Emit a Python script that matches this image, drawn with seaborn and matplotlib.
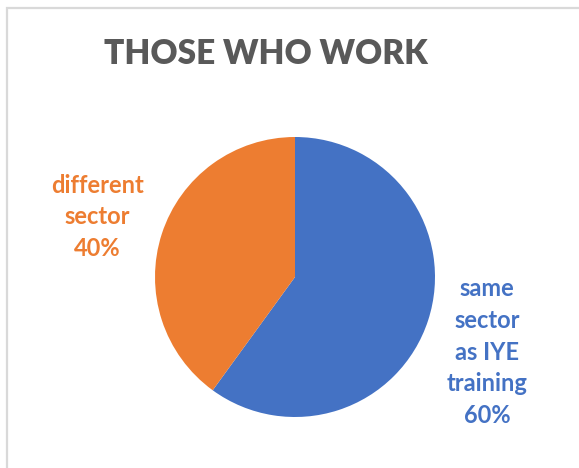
import matplotlib
matplotlib.use("Agg")
import matplotlib.pyplot as plt
from matplotlib.patches import Rectangle
import seaborn as sns

# Share of working graduates by sector of employment
categories = ["same\nsector\nas IYE\ntraining", "different\nsector"]
shares = [60, 40]
colors = ["#4472C4", "#ED7D31"]
title = "THOSE WHO WORK"

sns.set_theme(style="white")
plt.rcParams["font.family"] = ["Lato", "DejaVu Sans"]

W, H = 579, 468
fig = plt.figure(figsize=(W / 100, H / 100), dpi=100)
fig.patch.set_facecolor("white")

# light chart-area frame (top and left edges visible)
frame = Rectangle((6.5 / W, -0.05), 1.2, (H - 7.5) / H + 0.05,
                  transform=fig.transFigure, fill=False,
                  edgecolor="#d9d9d9", linewidth=1.6)
fig.patches.append(frame)

# pie axes: centre (295, 277), radius 140 px
cx, cy, r = 295, 277, 140
ax = fig.add_axes([(cx - r) / W, (H - cy - r) / H, 2 * r / W, 2 * r / H])
wedges, _ = ax.pie(shares, colors=colors, startangle=90, counterclock=False,
                   radius=1.0, wedgeprops=dict(linewidth=0))
ax.set_xlim(-1, 1)
ax.set_ylim(-1, 1)
ax.axis("off")

fig.text(266 / W, 1 - 54 / H, title, ha="center", va="center",
         fontsize=24, fontweight="heavy", color="#595959")

label_pos = [(487, 352), (97, 217)]
for cat, val, col, (px, py) in zip(categories, shares, colors, label_pos):
    fig.text(px / W, 1 - py / H, f"{cat}\n{val}%", ha="center", va="center",
             fontsize=17, fontweight="bold", color=col, linespacing=1.47)

fig.savefig("out.png", dpi=100, facecolor="white")
